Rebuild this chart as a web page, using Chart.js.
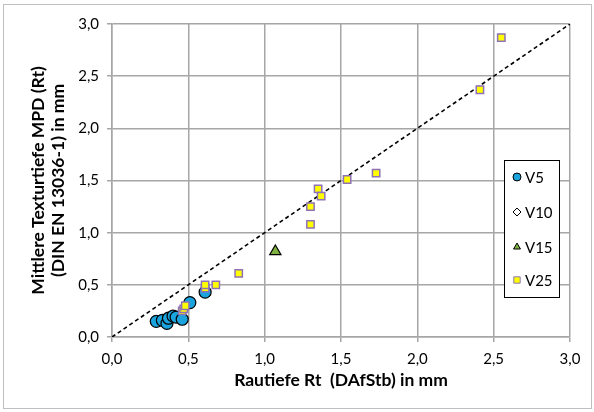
<!DOCTYPE html>
<html>
<head>
<meta charset="utf-8">
<script src="https://cdn.jsdelivr.net/npm/chart.js@4"></script>
<style>
html,body{margin:0;padding:0;background:#fff;}
#wrap{width:594px;height:412px;position:relative;}
</style>
</head>
<body>
<div id="wrap"><canvas id="c" width="594" height="412"></canvas></div>
<script>
// ---- data ----
const seriesNames = ['V5', 'V10', 'V15', 'V25'];
const v5X  = [0.29, 0.33, 0.36, 0.37, 0.40, 0.42, 0.46, 0.51, 0.61];
const v5Y  = [0.15, 0.16, 0.13, 0.18, 0.20, 0.19, 0.17, 0.33, 0.43];
const v10X = [];
const v10Y = [];
const v15X = [1.07];
const v15Y = [0.82];
const v25X = [0.46, 0.47, 0.48, 0.61, 0.61, 0.68, 0.83, 1.30, 1.30, 1.35, 1.37, 1.54, 1.73, 2.41, 2.55];
const v25Y = [0.25, 0.27, 0.30, 0.47, 0.50, 0.50, 0.61, 1.08, 1.25, 1.42, 1.35, 1.51, 1.57, 2.37, 2.87];
const refX = [0, 3];
const refY = [0, 3];
const tickValues = [0, 0.5, 1, 1.5, 2, 2.5, 3];
const xTitle = 'Rautiefe Rt  (DAfStb) in mm';
const yTitle = ['Mittlere Texturtiefe MPD (Rt)', '(DIN EN 13036-1) in mm'];

const pts = (xs, ys) => xs.map((x, i) => ({x: x, y: ys[i]}));
const fmt = v => v.toFixed(1).replace('.', ',');
const FONT = 'Lato, "Open Sans", sans-serif';

const datasets = [
  {label: seriesNames[3], data: pts(v25X, v25Y), pointStyle: 'rect', pointRadius: 5.2,
   backgroundColor: '#ffff00', borderColor: '#8e72b8', borderWidth: 1.5, order: 0},
  {label: seriesNames[2], data: pts(v15X, v15Y), pointStyle: 'triangle', pointRadius: 6.5,
   backgroundColor: '#7fb23f', borderColor: '#000', borderWidth: 1.2, order: 1},
  {label: seriesNames[1], data: pts(v10X, v10Y), pointStyle: 'rectRot', pointRadius: 5,
   backgroundColor: '#fff', borderColor: '#000', borderWidth: 1.2, order: 2},
  {label: seriesNames[0], data: pts(v5X, v5Y), pointStyle: 'circle', pointRadius: 6,
   backgroundColor: '#1aa3dc', borderColor: '#000', borderWidth: 1.2, order: 3},
  {label: 'ref', data: pts(refX, refY), showLine: true, pointRadius: 0, borderColor: '#000',
   borderWidth: 1.6, borderDash: [4, 3], fill: false, order: 10}
];

const frame = {
  id: 'frame',
  beforeDraw(chart) {
    const ctx = chart.ctx;
    ctx.save();
    ctx.fillStyle = '#fff';
    ctx.fillRect(0, 0, chart.width, chart.height);
    ctx.strokeStyle = '#bfbfbf';
    ctx.lineWidth = 1;
    ctx.strokeRect(3.5, 4.5, chart.width - 6, chart.height - 8);
    ctx.restore();
  }
};

const legendBox = {
  id: 'legendBox',
  afterDraw(chart) {
    const ctx = chart.ctx;
    const a = chart.chartArea;
    const bx = a.right - 66, by = a.top + 136, bw = 55, bh = 137;
    ctx.save();
    ctx.fillStyle = '#fff';
    ctx.fillRect(bx, by, bw, bh);
    ctx.strokeStyle = '#000';
    ctx.lineWidth = 1;
    ctx.strokeRect(bx + 0.5, by + 0.5, bw, bh);
    const order = [3, 2, 1, 0];
    const rows = [17, 52, 87, 120];
    order.forEach((di, k) => {
      const ds = chart.data.datasets[di];
      const cy = by + rows[k];
      const cx = bx + 13;
      ctx.fillStyle = ds.backgroundColor;
      ctx.strokeStyle = ds.borderColor;
      ctx.lineWidth = 1;
      Chart.helpers.drawPoint(ctx, {pointStyle: ds.pointStyle, radius: ds.pointStyle === 'rect' ? 4.5 : 4, borderWidth: 1, rotation: 0}, cx, cy);
      ctx.fillStyle = '#000';
      ctx.font = '15px ' + FONT;
      ctx.textBaseline = 'middle';
      ctx.textAlign = 'left';
      ctx.fillText(ds.label, cx + 8, cy + 1);
    });
    ctx.restore();
  }
};

new Chart(document.getElementById('c'), {
  type: 'scatter',
  data: {datasets: datasets},
  plugins: [frame, legendBox],
  options: {
    responsive: false,
    animation: false,
    devicePixelRatio: 1,
    layout: {padding: {left: 0, right: 24, top: 24, bottom: 0}},
    plugins: {legend: {display: false}, tooltip: {enabled: false}},
    scales: {
      x: {
        type: 'linear', min: 0, max: 3,
        afterBuildTicks: s => { s.ticks = tickValues.map(v => ({value: v})); },
        afterFit: s => { s.height = 75; },
        ticks: {callback: v => fmt(v), color: '#000', padding: 8, font: {family: FONT, size: 15}},
        grid: {color: '#a6a6a6', lineWidth: 1.5, tickLength: 5},
        border: {color: '#a6a6a6', width: 1.5},
        title: {display: true, text: xTitle, color: '#000',
                font: {family: FONT, size: 17.5, weight: 'bold', lineHeight: 1.2}, padding: {top: 0, bottom: 21}}
      },
      y: {
        type: 'linear', min: 0, max: 3,
        afterBuildTicks: s => { s.ticks = tickValues.map(v => ({value: v})); },
        afterFit: s => { s.width = 112; },
        ticks: {callback: v => fmt(v), color: '#000', padding: 8, font: {family: FONT, size: 15}},
        grid: {color: '#a6a6a6', lineWidth: 1.5, tickLength: 5},
        border: {color: '#a6a6a6', width: 1.5},
        title: {display: true, text: yTitle, color: '#000',
                font: {family: FONT, size: 17.5, weight: 'bold', lineHeight: 1.143}, padding: {top: 28, bottom: 0}}
      }
    }
  }
});
</script>
</body>
</html>
